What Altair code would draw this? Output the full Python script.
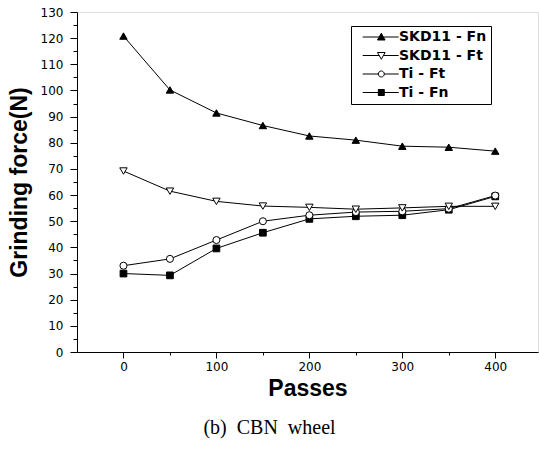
import altair as alt
import pandas as pd

passes = [0, 50, 100, 150, 200, 250, 300, 350, 400]
skd11_fn = [120.8, 100.2, 91.4, 86.6, 82.6, 81.0, 78.7, 78.3, 76.8]
skd11_ft = [69.2, 61.5, 57.6, 55.8, 55.3, 54.6, 55.1, 55.7, 55.7]
ti_ft = [33.0, 35.6, 42.8, 50.0, 52.3, 53.5, 53.8, 54.8, 59.8]
ti_fn = [30.0, 29.3, 39.6, 45.6, 50.9, 51.9, 52.3, 54.4, 59.5]

series_order = ["SKD11 - Fn", "SKD11 - Ft", "Ti - Ft", "Ti - Fn"]
y_ticks = list(range(0, 131, 5))
x_ticks = list(range(0, 401, 50))
caption = "(b)\u00a0\u00a0CBN\u00a0\u00a0wheel"

rows = []
for name, vals in [("Ti - Fn", ti_fn), ("Ti - Ft", ti_ft), ("SKD11 - Ft", skd11_ft), ("SKD11 - Fn", skd11_fn)]:
    for p, v in zip(passes, vals):
        rows.append({"passes": p, "force": v, "series": name})
df = pd.DataFrame(rows)

FONT = "Liberation Sans"
TICKFONT = "DejaVu Sans"

x_enc = alt.X(
    "passes:Q",
    scale=alt.Scale(domain=[-50, 446], nice=False, zero=False),
    axis=alt.Axis(
        title="Passes", values=x_ticks,
        labelExpr="datum.value % 100 === 0 ? datum.label : ''",
        tickSize={"condition": {"test": "datum.value % 100 !== 0", "value": 3}, "value": 6},
        labelFont=TICKFONT, labelFontSize=12, labelColor="black", labelPadding=3,
        titleFont=FONT, titleFontSize=23, titleFontWeight="bold", titleColor="black", titlePadding=5,
        domainColor="black", tickColor="black", grid=False, labelFlush=False, labelOverlap=False,
    ),
)
y_enc = alt.Y(
    "force:Q",
    scale=alt.Scale(domain=[0, 130], nice=False),
    axis=alt.Axis(
        title="Grinding force(N)", values=y_ticks,
        labelExpr="datum.value % 10 === 0 ? datum.label : ''",
        tickSize={"condition": {"test": "datum.value % 10 !== 0", "value": 4}, "value": 7},
        labelFont=TICKFONT, labelFontSize=12, labelColor="black", labelPadding=7,
        titleFont=FONT, titleFontSize=23, titleFontWeight="bold", titleColor="black", titlePadding=9,
        domainColor="black", tickColor="black", grid=False, labelFlush=False, labelOverlap=False,
    ),
)

base = alt.Chart(df)

lines = base.mark_line(color="black", strokeWidth=1).encode(
    x=x_enc, y=y_enc, detail="series:N"
)

marker_specs = [
    ("Ti - Fn", "square", "black", 45),
    ("Ti - Ft", "circle", "white", 50),
    ("SKD11 - Ft", "triangle-down", "white", 55),
    ("SKD11 - Fn", "triangle-up", "black", 55),
]
point_layers = []
for name, shp, fillc, sz in marker_specs:
    point_layers.append(
        base.transform_filter(alt.datum.series == name).mark_point(
            shape=shp, fill=fillc, filled=True, stroke="black", strokeWidth=1, size=sz, opacity=1
        ).encode(x=x_enc, y=y_enc)
    )

# legend glyphs: a short line with the marker on it (unit = sqrt(size)/2 px)
legend_paths = [
    "M0.14,0L3.44,0M4.28,0L7.34,0M3.86,-0.75L4.62,0.6L3.1,0.6Z",
    "M0.14,0L3.44,0M4.28,0L7.34,0M3.86,0.75L4.62,-0.6L3.1,-0.6Z",
    "M0.14,0L3.26,0M4.46,0L7.34,0M4.46,0A0.6,0.6,0,1,1,3.26,0A0.6,0.6,0,1,1,4.46,0Z",
    "M0.14,0L3.26,0M4.46,0L7.34,0M3.26,-0.6L4.46,-0.6L4.46,0.6L3.26,0.6Z",
]
leg = alt.Legend(
    title=None, orient="none", legendX=274, legendY=14,
    strokeColor="black", fillColor="white", padding=4,
    labelFont=TICKFONT, labelFontSize=14, labelFontWeight="bold", labelColor="black",
    symbolSize=100, symbolStrokeWidth=1, symbolStrokeColor="black", symbolOpacity=1,
    labelOffset=30, rowPadding=4.5,
)
legend_layer = base.mark_point(
    size=100, strokeWidth=1, filled=False, opacity=0
).encode(
    x=x_enc, y=y_enc,
    shape=alt.Shape("series:N", scale=alt.Scale(domain=series_order, range=legend_paths), legend=leg),
    fill=alt.Fill("series:N", scale=alt.Scale(domain=series_order,
                  range=["black", "white", "white", "black"]), legend=leg),
    stroke=alt.Stroke("series:N", scale=alt.Scale(domain=series_order,
                      range=["black", "black", "black", "black"]), legend=leg),
)

chart = alt.layer(legend_layer, lines, *point_layers).properties(
    width=461, height=340,
    autosize="none",
    padding={"left": 77, "top": 12, "right": 1, "bottom": 103},
    title=alt.TitleParams(caption, orient="bottom", anchor="middle", font="Liberation Serif",
                          fontSize=20, fontWeight="normal", color="black", dx=-38, offset=18),
).configure_view(stroke="black", strokeWidth=1).configure(background="white")

chart.save("out.html", embed_options={"renderer": "svg", "actions": False})
